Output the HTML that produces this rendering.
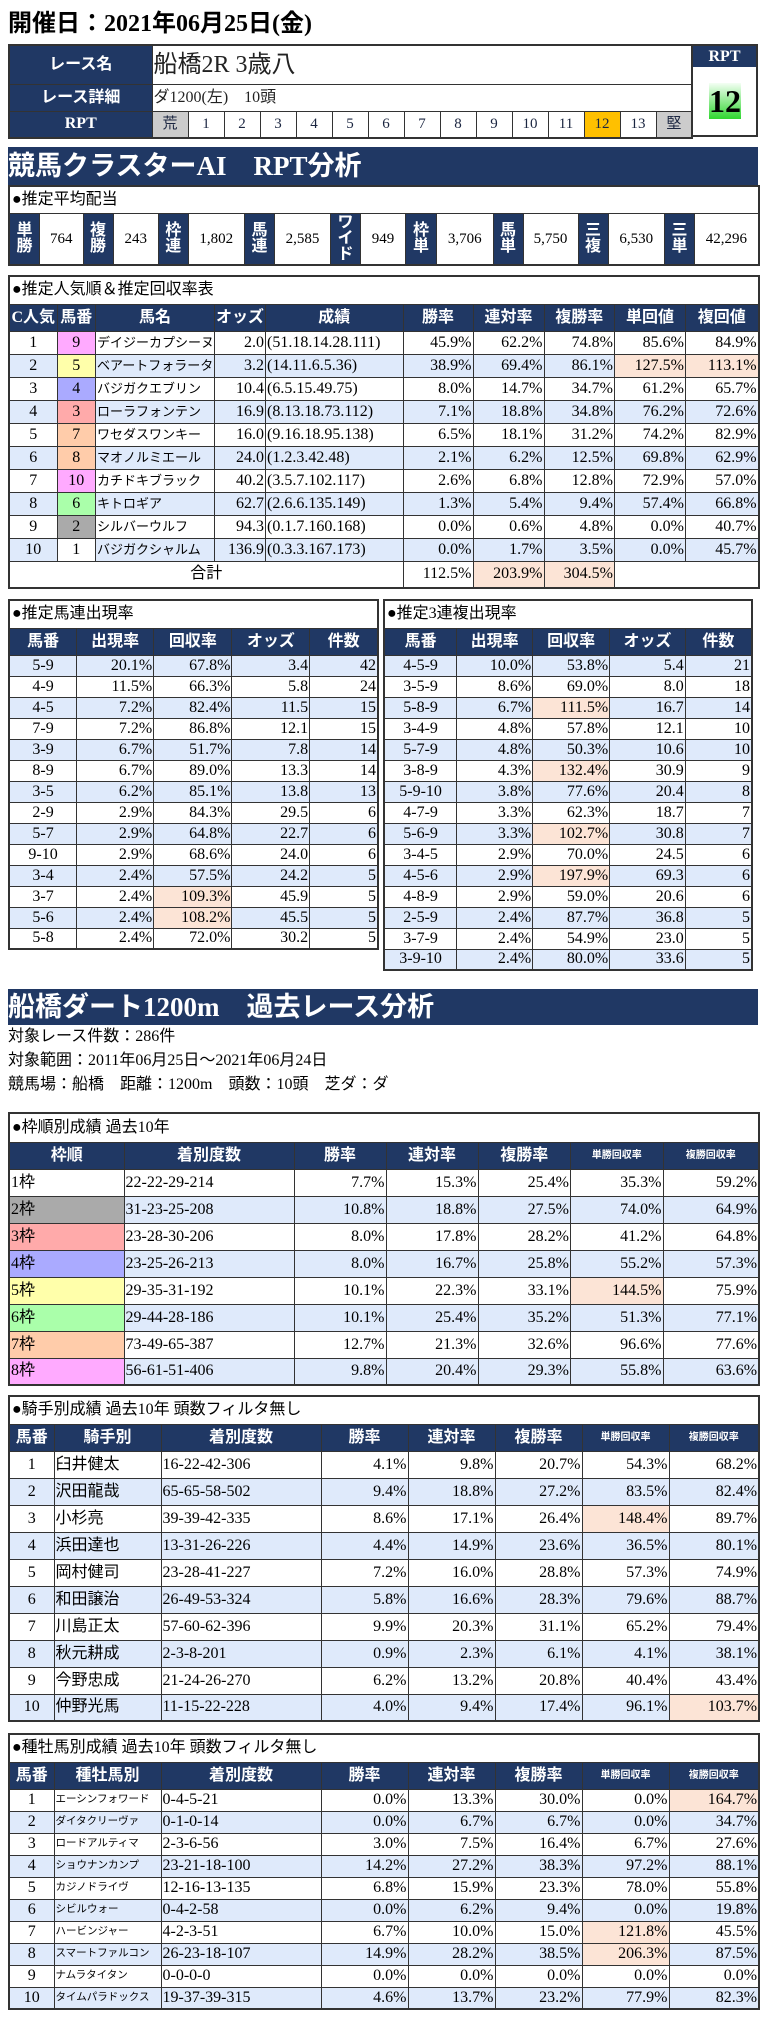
<!DOCTYPE html>
<html lang="ja">
<head>
<meta charset="utf-8">
<style>
*{box-sizing:border-box}
body{margin:0;width:784px;height:2027px;position:relative;background:#fff;font-family:"Liberation Serif","Noto Sans CJK JP",serif;color:#000;overflow:hidden}
table{border-collapse:collapse;table-layout:fixed;border:2px solid #333;position:absolute}
td,th{border:1px solid #333;padding:0 1px;font-size:16px;line-height:18px;white-space:nowrap;overflow:hidden;font-weight:normal;background:#fff}
th{background:#203864;color:#fff;font-weight:bold;text-align:center}
td{text-align:right}
td.c{text-align:center}
td.l{text-align:left}
td.tt{text-align:left;padding-left:2px}
tr.b td{background:#dfeafb}
td.s{background:#fce4d6!important}
th.sm{font-size:10px}
td.nm{font-size:13px;text-align:left}
td.sn{font-size:10.5px;text-align:left}
.pk{background:#ffaaff!important}
.yl{background:#ffffaa!important}
.bl{background:#aaaaff!important}
.rd{background:#ffaaaa!important}
.or{background:#ffccaa!important}
.gr{background:#aaffaa!important}
.gy{background:#aaaaaa!important}
.wh{background:#fff!important}
.banner{position:absolute;left:8px;width:750px;background:#203864;color:#fff;font-weight:bold;font-size:27px;white-space:nowrap}
.pl th{line-height:16px;font-size:16px}
.pl td{text-align:center;font-size:15px}
.pl td.tt{text-align:left;font-size:16px;padding-left:2px}
.rp td{text-align:center;font-size:15px;color:#1a2540}
</style>
</head>
<body>

<div style="position:absolute;left:8px;top:10px;font-size:24px;line-height:28px;font-weight:bold;white-space:nowrap">開催日：2021年06月25日(金)</div>

<!-- header table -->
<table style="left:8px;top:44px;width:685px">
<colgroup><col style="width:143px"><col span="15" style="width:36px"></colgroup>
<tr style="height:39px"><th>レース名</th><td colspan="15" class="l" style="font-size:24px;line-height:28px;color:#222">船橋2R 3歳八</td></tr>
<tr style="height:27px"><th>レース詳細</th><td colspan="15" class="l" style="color:#222">ダ1200(左)　10頭</td></tr>
<tr style="height:27px" class="rp"><th>RPT</th><td style="background:#ccc">荒</td><td>1</td><td>2</td><td>3</td><td>4</td><td>5</td><td>6</td><td>7</td><td>8</td><td>9</td><td>10</td><td>11</td><td style="background:#ffc000">12</td><td>13</td><td style="background:#ccc">堅</td></tr>
</table>
<div style="position:absolute;left:691px;top:44px;width:67px;height:93px;border:2px solid #333;background:#fff">
 <div style="height:21px;background:#203864;color:#fff;font-weight:bold;font-size:16px;line-height:21px;text-align:center">RPT</div>
 <div style="position:absolute;left:16px;top:37px;width:32px;height:36px;background:linear-gradient(#f4fff4,#2fd62f);font-weight:bold;font-size:32px;line-height:36px;text-align:center">12</div>
</div>

<div class="banner" style="top:147px;height:38px;line-height:38px">競馬クラスターAI　RPT分析</div>

<!-- payouts -->
<table class="pl" style="left:8px;top:185px;width:750px">
<colgroup><col style="width:30.5px"><col style="width:43.5px"><col style="width:30px"><col style="width:45.5px"><col style="width:29.5px"><col style="width:56.5px"><col style="width:30px"><col style="width:56px"><col style="width:30px"><col style="width:45px"><col style="width:31px"><col style="width:56.5px"><col style="width:30px"><col style="width:55px"><col style="width:30px"><col style="width:56.5px"><col style="width:30px"><col style="width:64px"></colgroup>
<tr style="height:27px"><td colspan="18" class="tt">●推定平均配当</td></tr>
<tr style="height:52px"><th>単<br>勝</th><td>764</td><th>複<br>勝</th><td>243</td><th>枠<br>連</th><td>1,802</td><th>馬<br>連</th><td>2,585</td><th>ワ<br>イ<br>ド</th><td>949</td><th>枠<br>単</th><td>3,706</td><th>馬<br>単</th><td>5,750</td><th>三<br>複</th><td>6,530</td><th>三<br>単</th><td>42,296</td></tr>
</table>

<!-- popularity -->
<table style="left:8px;top:275px;width:750px">
<colgroup><col style="width:48px"><col style="width:38.5px"><col style="width:119px"><col style="width:51px"><col style="width:137.5px"><col style="width:70px"><col style="width:71px"><col style="width:70.5px"><col style="width:71px"><col style="width:73px"></colgroup>
<tr style="height:28px"><td colspan="10" class="tt">●推定人気順＆推定回収率表</td></tr>
<tr style="height:27px"><th>C人気</th><th>馬番</th><th>馬名</th><th>オッズ</th><th>成績</th><th>勝率</th><th>連対率</th><th>複勝率</th><th>単回値</th><th>複回値</th></tr>
<tr style="height:23px"><td class="c">1</td><td class="c pk">9</td><td class="nm">デイジーカプシーヌ</td><td>2.0</td><td class="l">(51.18.14.28.111)</td><td>45.9%</td><td>62.2%</td><td>74.8%</td><td>85.6%</td><td>84.9%</td></tr>
<tr style="height:23px" class="b"><td class="c">2</td><td class="c yl">5</td><td class="nm">ベアートフォラータ</td><td>3.2</td><td class="l">(14.11.6.5.36)</td><td>38.9%</td><td>69.4%</td><td>86.1%</td><td class="s">127.5%</td><td class="s">113.1%</td></tr>
<tr style="height:23px"><td class="c">3</td><td class="c bl">4</td><td class="nm">バジガクエブリン</td><td>10.4</td><td class="l">(6.5.15.49.75)</td><td>8.0%</td><td>14.7%</td><td>34.7%</td><td>61.2%</td><td>65.7%</td></tr>
<tr style="height:23px" class="b"><td class="c">4</td><td class="c rd">3</td><td class="nm">ローラフォンテン</td><td>16.9</td><td class="l">(8.13.18.73.112)</td><td>7.1%</td><td>18.8%</td><td>34.8%</td><td>76.2%</td><td>72.6%</td></tr>
<tr style="height:23px"><td class="c">5</td><td class="c or">7</td><td class="nm">ワセダスワンキー</td><td>16.0</td><td class="l">(9.16.18.95.138)</td><td>6.5%</td><td>18.1%</td><td>31.2%</td><td>74.2%</td><td>82.9%</td></tr>
<tr style="height:23px" class="b"><td class="c">6</td><td class="c or">8</td><td class="nm">マオノルミエール</td><td>24.0</td><td class="l">(1.2.3.42.48)</td><td>2.1%</td><td>6.2%</td><td>12.5%</td><td>69.8%</td><td>62.9%</td></tr>
<tr style="height:23px"><td class="c">7</td><td class="c pk">10</td><td class="nm">カチドキブラック</td><td>40.2</td><td class="l">(3.5.7.102.117)</td><td>2.6%</td><td>6.8%</td><td>12.8%</td><td>72.9%</td><td>57.0%</td></tr>
<tr style="height:23px" class="b"><td class="c">8</td><td class="c gr">6</td><td class="nm">キトロギア</td><td>62.7</td><td class="l">(2.6.6.135.149)</td><td>1.3%</td><td>5.4%</td><td>9.4%</td><td>57.4%</td><td>66.8%</td></tr>
<tr style="height:23px"><td class="c">9</td><td class="c gy">2</td><td class="nm">シルバーウルフ</td><td>94.3</td><td class="l">(0.1.7.160.168)</td><td>0.0%</td><td>0.6%</td><td>4.8%</td><td>0.0%</td><td>40.7%</td></tr>
<tr style="height:23px" class="b"><td class="c">10</td><td class="c wh">1</td><td class="nm">バジガクシャルム</td><td>136.9</td><td class="l">(0.3.3.167.173)</td><td>0.0%</td><td>1.7%</td><td>3.5%</td><td>0.0%</td><td>45.7%</td></tr>
<tr style="height:27px"><td colspan="5" class="c">合計</td><td>112.5%</td><td class="s">203.9%</td><td class="s">304.5%</td><td colspan="2"></td></tr>
</table>

<!-- pair table left -->
<table style="left:8px;top:599px;width:369px">
<colgroup><col style="width:67.7px"><col style="width:77px"><col style="width:78.3px"><col style="width:77.7px"><col style="width:68.3px"></colgroup>
<tr style="height:28px"><td colspan="5" class="tt">●推定馬連出現率</td></tr>
<tr style="height:27px"><th>馬番</th><th>出現率</th><th>回収率</th><th>オッズ</th><th>件数</th></tr>
<tr style="height:21px" class="b"><td class="c">5-9</td><td>20.1%</td><td>67.8%</td><td>3.4</td><td>42</td></tr>
<tr style="height:21px"><td class="c">4-9</td><td>11.5%</td><td>66.3%</td><td>5.8</td><td>24</td></tr>
<tr style="height:21px" class="b"><td class="c">4-5</td><td>7.2%</td><td>82.4%</td><td>11.5</td><td>15</td></tr>
<tr style="height:21px"><td class="c">7-9</td><td>7.2%</td><td>86.8%</td><td>12.1</td><td>15</td></tr>
<tr style="height:21px" class="b"><td class="c">3-9</td><td>6.7%</td><td>51.7%</td><td>7.8</td><td>14</td></tr>
<tr style="height:21px"><td class="c">8-9</td><td>6.7%</td><td>89.0%</td><td>13.3</td><td>14</td></tr>
<tr style="height:21px" class="b"><td class="c">3-5</td><td>6.2%</td><td>85.1%</td><td>13.8</td><td>13</td></tr>
<tr style="height:21px"><td class="c">2-9</td><td>2.9%</td><td>84.3%</td><td>29.5</td><td>6</td></tr>
<tr style="height:21px" class="b"><td class="c">5-7</td><td>2.9%</td><td>64.8%</td><td>22.7</td><td>6</td></tr>
<tr style="height:21px"><td class="c">9-10</td><td>2.9%</td><td>68.6%</td><td>24.0</td><td>6</td></tr>
<tr style="height:21px" class="b"><td class="c">3-4</td><td>2.4%</td><td>57.5%</td><td>24.2</td><td>5</td></tr>
<tr style="height:21px"><td class="c">3-7</td><td>2.4%</td><td class="s">109.3%</td><td>45.9</td><td>5</td></tr>
<tr style="height:21px" class="b"><td class="c">5-6</td><td>2.4%</td><td class="s">108.2%</td><td>45.5</td><td>5</td></tr>
<tr style="height:21px"><td class="c">5-8</td><td>2.4%</td><td>72.0%</td><td>30.2</td><td>5</td></tr>
</table>

<!-- pair table right -->
<table style="left:383px;top:599px;width:368px">
<colgroup><col style="width:72.7px"><col style="width:76px"><col style="width:77px"><col style="width:75.6px"><col style="width:66.7px"></colgroup>
<tr style="height:28px"><td colspan="5" class="tt">●推定3連複出現率</td></tr>
<tr style="height:27px"><th>馬番</th><th>出現率</th><th>回収率</th><th>オッズ</th><th>件数</th></tr>
<tr style="height:21px" class="b"><td class="c">4-5-9</td><td>10.0%</td><td>53.8%</td><td>5.4</td><td>21</td></tr>
<tr style="height:21px"><td class="c">3-5-9</td><td>8.6%</td><td>69.0%</td><td>8.0</td><td>18</td></tr>
<tr style="height:21px" class="b"><td class="c">5-8-9</td><td>6.7%</td><td class="s">111.5%</td><td>16.7</td><td>14</td></tr>
<tr style="height:21px"><td class="c">3-4-9</td><td>4.8%</td><td>57.8%</td><td>12.1</td><td>10</td></tr>
<tr style="height:21px" class="b"><td class="c">5-7-9</td><td>4.8%</td><td>50.3%</td><td>10.6</td><td>10</td></tr>
<tr style="height:21px"><td class="c">3-8-9</td><td>4.3%</td><td class="s">132.4%</td><td>30.9</td><td>9</td></tr>
<tr style="height:21px" class="b"><td class="c">5-9-10</td><td>3.8%</td><td>77.6%</td><td>20.4</td><td>8</td></tr>
<tr style="height:21px"><td class="c">4-7-9</td><td>3.3%</td><td>62.3%</td><td>18.7</td><td>7</td></tr>
<tr style="height:21px" class="b"><td class="c">5-6-9</td><td>3.3%</td><td class="s">102.7%</td><td>30.8</td><td>7</td></tr>
<tr style="height:21px"><td class="c">3-4-5</td><td>2.9%</td><td>70.0%</td><td>24.5</td><td>6</td></tr>
<tr style="height:21px" class="b"><td class="c">4-5-6</td><td>2.9%</td><td class="s">197.9%</td><td>69.3</td><td>6</td></tr>
<tr style="height:21px"><td class="c">4-8-9</td><td>2.9%</td><td>59.0%</td><td>20.6</td><td>6</td></tr>
<tr style="height:21px" class="b"><td class="c">2-5-9</td><td>2.4%</td><td>87.7%</td><td>36.8</td><td>5</td></tr>
<tr style="height:21px"><td class="c">3-7-9</td><td>2.4%</td><td>54.9%</td><td>23.0</td><td>5</td></tr>
<tr style="height:21px" class="b"><td class="c">3-9-10</td><td>2.4%</td><td>80.0%</td><td>33.6</td><td>5</td></tr>
</table>

<div class="banner" style="top:989px;height:36px;line-height:36px">船橋ダート1200m　過去レース分析</div>

<div style="position:absolute;left:8px;top:1025px;font-size:16px;line-height:24px;white-space:nowrap">対象レース件数：286件<br>対象範囲：2011年06月25日～2021年06月24日<br>競馬場：船橋　距離：1200m　頭数：10頭　芝ダ：ダ</div>

<!-- waku -->
<table style="left:8px;top:1112px;width:750px">
<colgroup><col style="width:115px"><col style="width:170px"><col style="width:92px"><col style="width:92px"><col style="width:92.5px"><col style="width:92.5px"><col style="width:96px"></colgroup>
<tr style="height:29px"><td colspan="7" class="tt">●枠順別成績 過去10年</td></tr>
<tr style="height:27px"><th>枠順</th><th>着別度数</th><th>勝率</th><th>連対率</th><th>複勝率</th><th class="sm">単勝回収率</th><th class="sm">複勝回収率</th></tr>
<tr style="height:27px"><td class="l">1枠</td><td class="l">22-22-29-214</td><td>7.7%</td><td>15.3%</td><td>25.4%</td><td>35.3%</td><td>59.2%</td></tr>
<tr style="height:27px" class="b"><td class="l gy">2枠</td><td class="l">31-23-25-208</td><td>10.8%</td><td>18.8%</td><td>27.5%</td><td>74.0%</td><td>64.9%</td></tr>
<tr style="height:27px"><td class="l rd">3枠</td><td class="l">23-28-30-206</td><td>8.0%</td><td>17.8%</td><td>28.2%</td><td>41.2%</td><td>64.8%</td></tr>
<tr style="height:27px" class="b"><td class="l bl">4枠</td><td class="l">23-25-26-213</td><td>8.0%</td><td>16.7%</td><td>25.8%</td><td>55.2%</td><td>57.3%</td></tr>
<tr style="height:27px"><td class="l yl">5枠</td><td class="l">29-35-31-192</td><td>10.1%</td><td>22.3%</td><td>33.1%</td><td class="s">144.5%</td><td>75.9%</td></tr>
<tr style="height:27px" class="b"><td class="l gr">6枠</td><td class="l">29-44-28-186</td><td>10.1%</td><td>25.4%</td><td>35.2%</td><td>51.3%</td><td>77.1%</td></tr>
<tr style="height:27px"><td class="l or">7枠</td><td class="l">73-49-65-387</td><td>12.7%</td><td>21.3%</td><td>32.6%</td><td>96.6%</td><td>77.6%</td></tr>
<tr style="height:27px" class="b"><td class="l pk">8枠</td><td class="l">56-61-51-406</td><td>9.8%</td><td>20.4%</td><td>29.3%</td><td>55.8%</td><td>63.6%</td></tr>
</table>

<!-- jockey -->
<table style="left:8px;top:1395px;width:750px">
<colgroup><col style="width:45px"><col style="width:107px"><col style="width:160px"><col style="width:87px"><col style="width:87px"><col style="width:87px"><col style="width:87px"><col style="width:90px"></colgroup>
<tr style="height:28px"><td colspan="8" class="tt">●騎手別成績 過去10年 頭数フィルタ無し</td></tr>
<tr style="height:27px"><th>馬番</th><th>騎手別</th><th>着別度数</th><th>勝率</th><th>連対率</th><th>複勝率</th><th class="sm">単勝回収率</th><th class="sm">複勝回収率</th></tr>
<tr style="height:27px"><td class="c">1</td><td class="l">臼井健太</td><td class="l">16-22-42-306</td><td>4.1%</td><td>9.8%</td><td>20.7%</td><td>54.3%</td><td>68.2%</td></tr>
<tr style="height:27px" class="b"><td class="c">2</td><td class="l">沢田龍哉</td><td class="l">65-65-58-502</td><td>9.4%</td><td>18.8%</td><td>27.2%</td><td>83.5%</td><td>82.4%</td></tr>
<tr style="height:27px"><td class="c">3</td><td class="l">小杉亮</td><td class="l">39-39-42-335</td><td>8.6%</td><td>17.1%</td><td>26.4%</td><td class="s">148.4%</td><td>89.7%</td></tr>
<tr style="height:27px" class="b"><td class="c">4</td><td class="l">浜田達也</td><td class="l">13-31-26-226</td><td>4.4%</td><td>14.9%</td><td>23.6%</td><td>36.5%</td><td>80.1%</td></tr>
<tr style="height:27px"><td class="c">5</td><td class="l">岡村健司</td><td class="l">23-28-41-227</td><td>7.2%</td><td>16.0%</td><td>28.8%</td><td>57.3%</td><td>74.9%</td></tr>
<tr style="height:27px" class="b"><td class="c">6</td><td class="l">和田譲治</td><td class="l">26-49-53-324</td><td>5.8%</td><td>16.6%</td><td>28.3%</td><td>79.6%</td><td>88.7%</td></tr>
<tr style="height:27px"><td class="c">7</td><td class="l">川島正太</td><td class="l">57-60-62-396</td><td>9.9%</td><td>20.3%</td><td>31.1%</td><td>65.2%</td><td>79.4%</td></tr>
<tr style="height:27px" class="b"><td class="c">8</td><td class="l">秋元耕成</td><td class="l">2-3-8-201</td><td>0.9%</td><td>2.3%</td><td>6.1%</td><td>4.1%</td><td>38.1%</td></tr>
<tr style="height:27px"><td class="c">9</td><td class="l">今野忠成</td><td class="l">21-24-26-270</td><td>6.2%</td><td>13.2%</td><td>20.8%</td><td>40.4%</td><td>43.4%</td></tr>
<tr style="height:27px" class="b"><td class="c">10</td><td class="l">仲野光馬</td><td class="l">11-15-22-228</td><td>4.0%</td><td>9.4%</td><td>17.4%</td><td>96.1%</td><td class="s">103.7%</td></tr>
</table>

<!-- sire -->
<table style="left:8px;top:1733px;width:750px">
<colgroup><col style="width:45px"><col style="width:107px"><col style="width:160px"><col style="width:87px"><col style="width:87px"><col style="width:87px"><col style="width:87px"><col style="width:90px"></colgroup>
<tr style="height:28px"><td colspan="8" class="tt">●種牡馬別成績 過去10年 頭数フィルタ無し</td></tr>
<tr style="height:27px"><th>馬番</th><th>種牡馬別</th><th>着別度数</th><th>勝率</th><th>連対率</th><th>複勝率</th><th class="sm">単勝回収率</th><th class="sm">複勝回収率</th></tr>
<tr style="height:22px"><td class="c">1</td><td class="sn">エーシンフォワード</td><td class="l">0-4-5-21</td><td>0.0%</td><td>13.3%</td><td>30.0%</td><td>0.0%</td><td class="s">164.7%</td></tr>
<tr style="height:22px" class="b"><td class="c">2</td><td class="sn">ダイタクリーヴァ</td><td class="l">0-1-0-14</td><td>0.0%</td><td>6.7%</td><td>6.7%</td><td>0.0%</td><td>34.7%</td></tr>
<tr style="height:22px"><td class="c">3</td><td class="sn">ロードアルティマ</td><td class="l">2-3-6-56</td><td>3.0%</td><td>7.5%</td><td>16.4%</td><td>6.7%</td><td>27.6%</td></tr>
<tr style="height:22px" class="b"><td class="c">4</td><td class="sn">ショウナンカンプ</td><td class="l">23-21-18-100</td><td>14.2%</td><td>27.2%</td><td>38.3%</td><td>97.2%</td><td>88.1%</td></tr>
<tr style="height:22px"><td class="c">5</td><td class="sn">カジノドライヴ</td><td class="l">12-16-13-135</td><td>6.8%</td><td>15.9%</td><td>23.3%</td><td>78.0%</td><td>55.8%</td></tr>
<tr style="height:22px" class="b"><td class="c">6</td><td class="sn">シビルウォー</td><td class="l">0-4-2-58</td><td>0.0%</td><td>6.2%</td><td>9.4%</td><td>0.0%</td><td>19.8%</td></tr>
<tr style="height:22px"><td class="c">7</td><td class="sn">ハービンジャー</td><td class="l">4-2-3-51</td><td>6.7%</td><td>10.0%</td><td>15.0%</td><td class="s">121.8%</td><td>45.5%</td></tr>
<tr style="height:22px" class="b"><td class="c">8</td><td class="sn">スマートファルコン</td><td class="l">26-23-18-107</td><td>14.9%</td><td>28.2%</td><td>38.5%</td><td class="s">206.3%</td><td>87.5%</td></tr>
<tr style="height:22px"><td class="c">9</td><td class="sn">ナムラタイタン</td><td class="l">0-0-0-0</td><td>0.0%</td><td>0.0%</td><td>0.0%</td><td>0.0%</td><td>0.0%</td></tr>
<tr style="height:22px" class="b"><td class="c">10</td><td class="sn">タイムパラドックス</td><td class="l">19-37-39-315</td><td>4.6%</td><td>13.7%</td><td>23.2%</td><td>77.9%</td><td>82.3%</td></tr>
</table>

</body>
</html>
